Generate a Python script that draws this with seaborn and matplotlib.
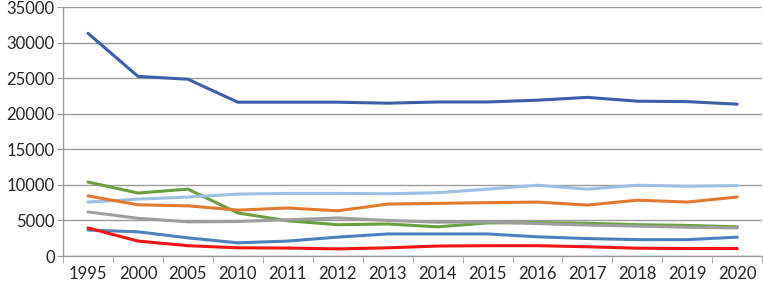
import numpy as np
import pandas as pd
import seaborn as sns
import matplotlib.pyplot as plt

# Years on the category axis
years = ['1995', '2000', '2005', '2010', '2011', '2012', '2013', '2014',
         '2015', '2016', '2017', '2018', '2019', '2020']

# Series values
s_darkblue = [31300, 25250, 24850, 21620, 21620, 21620, 21480, 21650,
              21650, 21900, 22300, 21760, 21700, 21340]
s_green = [10400, 8850, 9400, 6050, 4950, 4400, 4500, 4100,
           4650, 4700, 4600, 4400, 4300, 4100]
s_lightblue = [7580, 8000, 8280, 8700, 8800, 8800, 8750, 8900,
               9400, 9950, 9400, 9950, 9800, 9900]
s_orange = [8450, 7200, 7050, 6450, 6750, 6350, 7300, 7400,
            7500, 7580, 7160, 7850, 7580, 8300]
s_gray = [6200, 5300, 4800, 4850, 5100, 5350, 5000, 4750,
          4800, 4550, 4350, 4200, 4050, 3950]
s_blue = [3650, 3400, 2550, 1850, 2100, 2650, 3100, 3100,
          3100, 2700, 2450, 2300, 2300, 2650]
s_red = [3950, 2100, 1450, 1150, 1120, 1000, 1150, 1400,
         1450, 1450, 1300, 1100, 1050, 1050]

series = {
    'darkblue': s_darkblue,
    'green': s_green,
    'lightblue': s_lightblue,
    'orange': s_orange,
    'gray': s_gray,
    'blue': s_blue,
    'red': s_red,
}
colors = {
    'darkblue': '#3E5FA8',
    'green': '#6B9E3E',
    'lightblue': '#9DBFE3',
    'orange': '#E07A30',
    'gray': '#9E9E9E',
    'blue': '#4E80BE',
    'red': '#F01414',
}

rows = []
for name, vals in series.items():
    for yr, v in zip(years, vals):
        rows.append({'year': yr, 'value': v, 'series': name})
df = pd.DataFrame(rows)

sns.set_style('white')
plt.rcParams['font.family'] = ['Lato', 'DejaVu Sans']

fig = plt.figure(figsize=(7.63, 2.87), dpi=100)
ax = fig.add_axes([0.0826, 0.108, 0.9164, 0.8676])

sns.lineplot(data=df, x='year', y='value', hue='series', palette=colors,
             hue_order=list(series.keys()), linewidth=2.2, legend=False,
             sort=False, ax=ax)

ax.set_xlim(-0.5, len(years) - 0.5)
ax.set_ylim(0, 35000)
ax.set_yticks(np.arange(0, 35001, 5000))
ax.grid(axis='y', color='#9C9C9C', linewidth=1)
ax.set_axisbelow(True)
ax.set_xlabel('')
ax.set_ylabel('')

ax.set_xticks(range(len(years)))
ax.set_xticklabels(years)
ax.set_xticks(np.arange(-0.5, len(years), 1), minor=True)
ax.tick_params(axis='x', which='major', length=0, pad=7, labelsize=12)
ax.tick_params(axis='x', which='minor', length=5, color='#9C9C9C',
               direction='out', bottom=True)
ax.tick_params(axis='y', length=4, color='#9C9C9C', pad=2, labelsize=12,
               left=True)

for side in ['top', 'right']:
    ax.spines[side].set_visible(False)
for side in ['left', 'bottom']:
    ax.spines[side].set_color('#9C9C9C')
    ax.spines[side].set_linewidth(1)

fig.savefig('out.png', dpi=100)
